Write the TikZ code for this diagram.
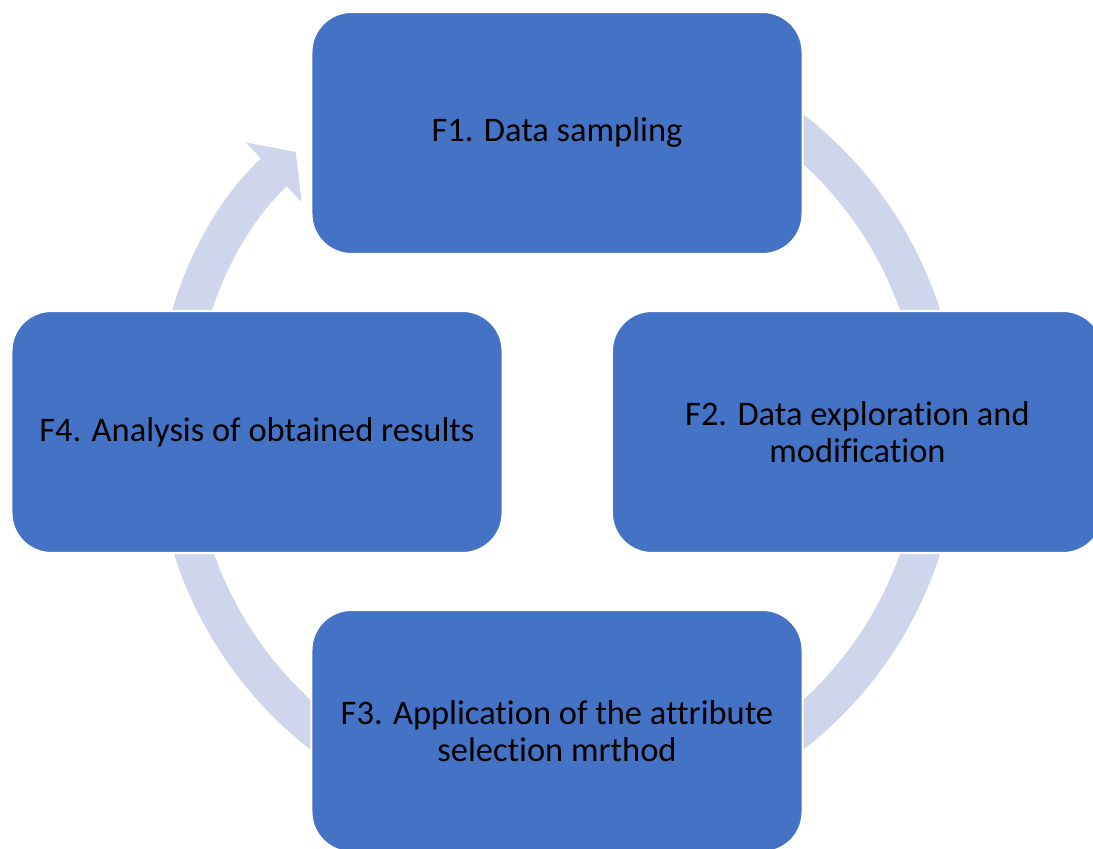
\documentclass[tikz,border=0pt]{standalone}
\usepackage{fontspec}
\setmainfont{Carlito}[Ligatures=NoCommon]
\usetikzlibrary{arrows.meta, positioning}

\definecolor{boxblue}{RGB}{68,114,196}
\definecolor{ringblue}{RGB}{207,213,234}

\begin{document}
\begin{tikzpicture}[x=0.025cm, y=0.025cm,
  stage/.style={rectangle, rounded corners=1cm, fill=boxblue, draw=white,
    line width=1.5pt, minimum width=12.275cm, minimum height=6.05cm,
    align=center, inner sep=0pt, text=black,
    font=\fontsize{24.5}{26.5}\selectfont},
  ring/.style={draw=ringblue, line width=0.95cm}]

  \useasboundingbox (0,0) rectangle (1093,849);
  \fill[white] (0,0) rectangle (1093,849);
  \clip (0,0) rectangle (1093,849);

  \coordinate (ctr) at (557,417);

  % cycle arcs, drawn behind the boxes
  \draw[ring] (ctr) ++(60:383) arc[start angle=60, end angle=10, radius=383];
  \draw[ring] (ctr) ++(-10:383) arc[start angle=-10, end angle=-60, radius=383];
  \draw[ring] (ctr) ++(-120:383) arc[start angle=-120, end angle=-170, radius=383];
  \draw[ring, -{Triangle[length=0.75cm, width=2cm]}]
    (ctr) ++(190:383) arc[start angle=190, end angle=133, radius=383];

  \node[stage] (f1) at (557,716) {F1. Data sampling};
  \node[stage] (f2) at (857.5,417) {F2. Data exploration and\\modification};
  \node[stage] (f3) at (557,118) {F3. Application of the attribute\\selection mrthod};
  \node[stage] (f4) at (257,417) {F4. Analysis of obtained results};
\end{tikzpicture}
\end{document}
